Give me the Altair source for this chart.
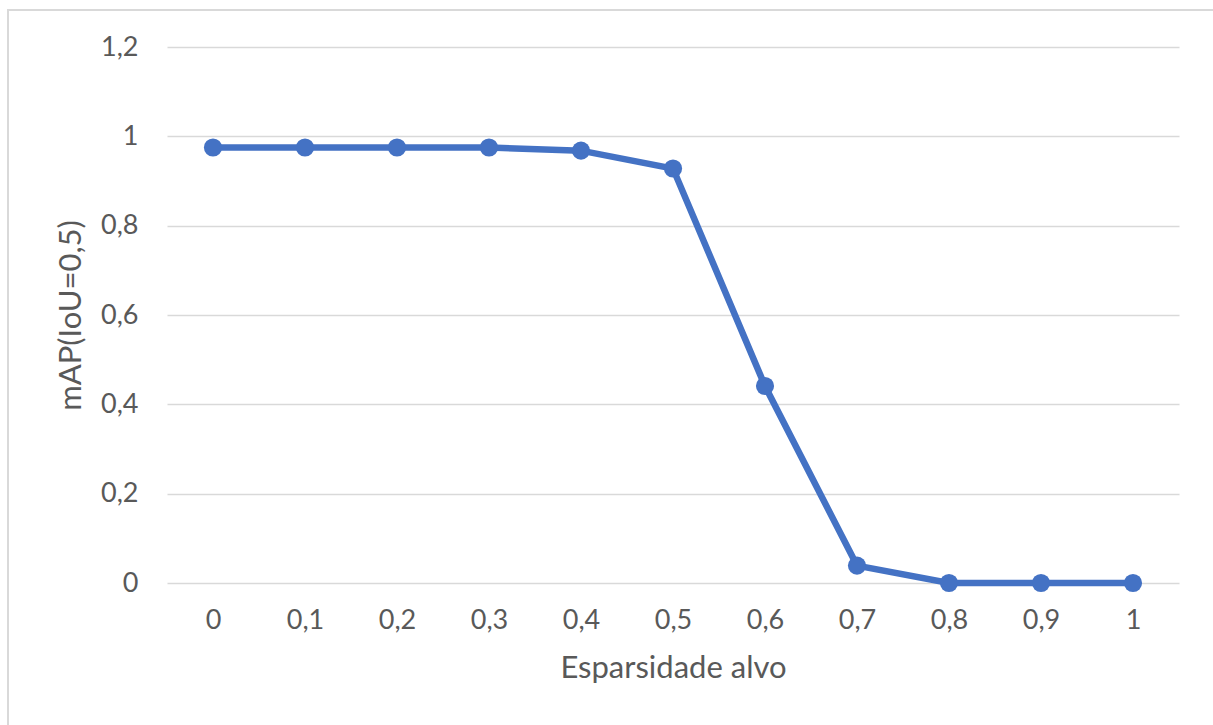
import altair as alt
import pandas as pd

# Target sparsity levels and the resulting detection accuracy
sparsity = ["0", "0,1", "0,2", "0,3", "0,4", "0,5", "0,6", "0,7", "0,8", "0,9", "1"]
map_iou05 = [0.975, 0.975, 0.975, 0.975, 0.968, 0.928, 0.441, 0.039, 0.0, 0.0, 0.0]
y_ticks = [0, 0.2, 0.4, 0.6, 0.8, 1.0, 1.2]

df = pd.DataFrame({"sparsity": sparsity, "map": map_iou05})

BLUE = "#4472C4"
TEXT = "#595959"
FONT = "Lato"

x_enc = alt.X(
    "sparsity:N",
    sort=sparsity,
    scale=alt.Scale(type="point", padding=0.5),
    axis=alt.Axis(
        title="Esparsidade alvo",
        labelAngle=0,
        labelFontSize=27,
        labelColor=TEXT,
        labelFont=FONT,
        labelPadding=24,
        titleFontSize=31,
        titleColor=TEXT,
        titleFont=FONT,
        titleFontWeight="normal",
        titlePadding=20,
        domain=False,
        ticks=False,
        grid=False,
    ),
)
y_enc = alt.Y(
    "map:Q",
    scale=alt.Scale(domain=[0, 1.2], nice=False),
    axis=alt.Axis(
        title="mAP(IoU=0,5)",
        values=y_ticks,
        labelExpr="replace(format(datum.value, '.1~f'), '.', ',')",
        labelFontSize=27,
        labelColor=TEXT,
        labelFont=FONT,
        labelPadding=29,
        titleFontSize=31,
        titleColor=TEXT,
        titleFont=FONT,
        titleFontWeight="normal",
        titlePadding=13,
        domain=False,
        ticks=False,
        grid=True,
        gridColor="#d9d9d9",
        gridWidth=1.5,
    ),
)

line = alt.Chart(df).mark_line(color=BLUE, strokeWidth=6.5).encode(x=x_enc, y=y_enc)
points = alt.Chart(df).mark_point(
    filled=True, color=BLUE, size=330, opacity=1
).encode(x=x_enc, y=y_enc)

# Light frame around the whole chart area
frame = alt.Chart(pd.DataFrame({"a": [0]})).mark_rect(
    fill=None, stroke="#d9d9d9", strokeWidth=2
).encode(
    x=alt.value(-159), x2=alt.value(1300), y=alt.value(-37), y2=alt.value(900)
)

chart = alt.layer(frame, line, points).properties(
    width=1012,
    height=536,
    padding={"left": 167, "top": 47, "right": 34, "bottom": 142},
    autosize=alt.AutoSizeParams(type="none"),
    background="white",
).configure_view(stroke=None)

chart.save("out.html", embed_options={"renderer": "svg", "actions": False})
